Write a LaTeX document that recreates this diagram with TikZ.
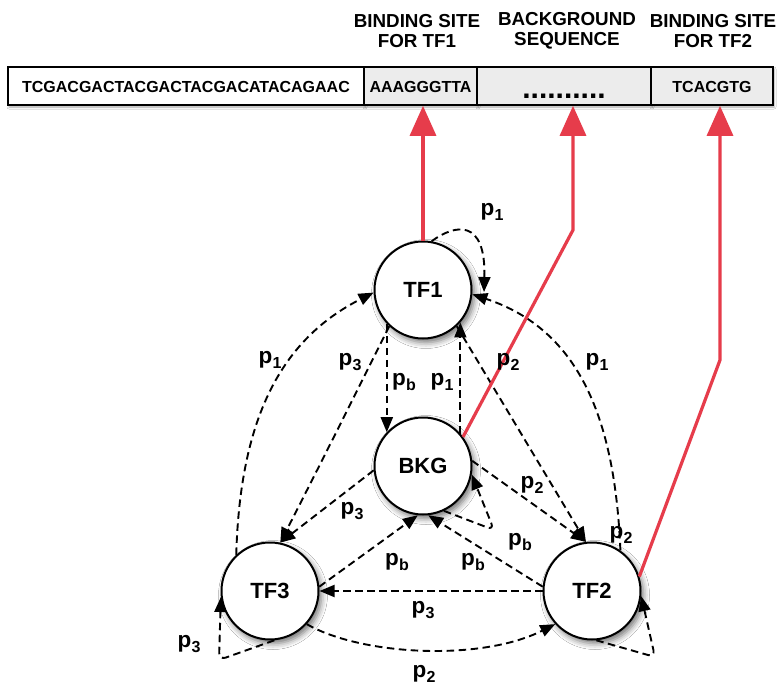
\documentclass[tikz,border=0pt]{standalone}
\usepackage{fontspec}
\setmainfont{Liberation Sans}
\usetikzlibrary{arrows.meta,shadows.blur}
\definecolor{redarr}{RGB}{230,60,75}
\definecolor{cellgray}{RGB}{236,236,236}
\newcommand\pl[1]{p\kern0.3pt\raisebox{-5pt}{\fontsize{16}{16}\selectfont #1}}
\begin{document}
\begin{tikzpicture}[x=1pt,y=-1pt,
  state/.style={circle,draw=black,line width=2pt,fill=white,minimum size=97pt,inner sep=0pt,
    font=\fontsize{22}{22}\selectfont\bfseries,
    blur shadow={shadow xshift=3pt,shadow yshift=-4pt,shadow opacity=55,shadow blur radius=6pt}},
  trans/.style={draw=black,line width=1.9pt,dash pattern=on 7.5pt off 4.5pt,-{Triangle[length=15pt,width=12pt]}},
  lbl/.style={font=\fontsize{22.5}{22.5}\selectfont\bfseries,inner sep=0pt},
  cell/.style={draw=black,line width=1.6pt,minimum height=38pt,inner sep=0pt,text height=13pt,text depth=0pt,
    font=\fontsize{16}{16}\selectfont\bfseries,
    blur shadow={shadow xshift=1pt,shadow yshift=-2pt,shadow opacity=35,shadow blur radius=2pt}},
  hdr/.style={font=\fontsize{18.8}{20.5}\selectfont\bfseries,align=center,inner sep=0pt},
  emit/.style={draw=redarr,line width=3.2pt,-{Triangle[length=30pt,width=26pt]}}
]
\fill[white] (0,0) rectangle (777,685);
\useasboundingbox (0,0) rectangle (777,685);

% headers
\node[hdr] (h1) at (417,31) {BINDING SITE\\FOR TF1};
\node[hdr] (h2) at (567,31) {BACKGROUND\\SEQUENCE};
\node[hdr] (h3) at (713,31) {BINDING SITE\\FOR TF2};

% sequence bar
\node[cell,fill=white,minimum width=356pt] (c1) at (186,86) {TCGACGACTACGACTACGACATACAGAAC};
\node[cell,fill=cellgray,minimum width=113pt] (c2) at (420.5,86) {AAAGGGTTA};
\node[cell,fill=cellgray,minimum width=174pt] (c3) at (564,86) {\raisebox{-6pt}{\fontsize{30}{30}\selectfont ..........}};
\node[cell,fill=cellgray,minimum width=122pt] (c4) at (712,86) {TCACGTG};

% states
\node[state] (TF1) at (423,290) {TF1};
\node[state] (BKG) at (423,466) {BKG};
\node[state] (TF3) at (270,591) {TF3};
\node[state] (TF2) at (592,591) {TF2};

\coordinate (l1) at (484,292);
\coordinate (r2) at (573,230);
\coordinate (r3) at (720,360);

% transitions
\draw[trans] (TF1.80) .. controls (455,224) and (486,218) .. (l1);
\draw[trans] (TF3.133) .. controls (240,420) and (280,340) .. (TF1.183);
\draw[trans] (TF1.227) .. controls (365,375) and (325,455) .. (TF3.78);
\draw[trans] (TF1.223) -- (BKG.137);
\draw[trans] (BKG.41) -- (TF1.319);
\draw[trans] (TF1.313) -- (TF2.97);
\draw[trans] (BKG.6) -- (TF2.97);
\draw[trans] (TF2.55) .. controls (615,420) and (580,330) .. (TF1.355);
\draw[trans] (TF2.175) -- (BKG.276);
\draw[trans] (TF3.5) -- (BKG.264);
\draw[trans] (BKG.185) -- (TF3.78);
\draw[trans] (TF2.180) -- (TF3.0);
\draw[trans] (TF3.318) .. controls (360,655) and (480,662) .. (TF2.222);
\draw[trans,rounded corners=7pt] (TF3.275) -- (219,660) -- (TF3.187);
\draw[trans,rounded corners=7pt] (TF2.275) -- (655,657) -- (TF2.354);
\draw[trans,rounded corners=7pt] (BKG.295) -- (494,530) -- (BKG.350);

% emissions
\draw[emit] (TF1.north) -- (TF1.north |- c2.south);
\draw[emit] (BKG.36) -- (r2) -- (r2 |- c3.south);
\draw[emit] (TF2.17) -- (r3) -- (r3 |- c4.south);

% labels
\node[lbl] (q1) at (492,212) {\pl{1}};
\node[lbl] (q2) at (270,360) {\pl{1}};
\node[lbl] (q3) at (350,362) {\pl{3}};
\node[lbl] (q4) at (404,382) {\pl{b}};
\node[lbl] (q5) at (442,382) {\pl{1}};
\node[lbl] (q6) at (508,362) {\pl{2}};
\node[lbl] (q7) at (597,362) {\pl{1}};
\node[lbl] (q8) at (352,511) {\pl{3}};
\node[lbl] (q9) at (532,485) {\pl{2}};
\node[lbl] (q10) at (520,542) {\pl{b}};
\node[lbl] (q11) at (621,535) {\pl{2}};
\node[lbl] (q12) at (397,562) {\pl{b}};
\node[lbl] (q13) at (473,562) {\pl{b}};
\node[lbl] (q14) at (423,610) {\pl{3}};
\node[lbl] (q15) at (189,644) {\pl{3}};
\node[lbl] (q16) at (424,674) {\pl{2}};
\end{tikzpicture}
\end{document}
